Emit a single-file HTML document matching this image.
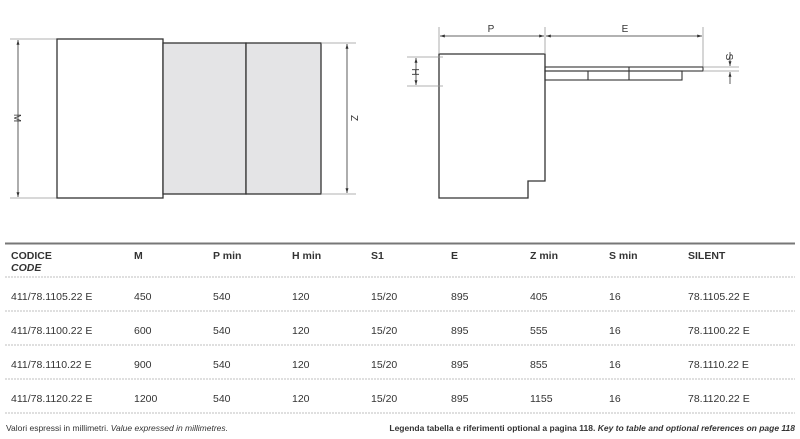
<!DOCTYPE html>
<html><head><meta charset="utf-8"><style>
html,body{margin:0;padding:0;background:#fff;width:800px;height:439px;overflow:hidden}
svg text{font-family:"Liberation Sans",Arial,sans-serif;fill:#333}
</style></head><body>
<svg width="800" height="439" viewBox="0 0 800 439" xmlns="http://www.w3.org/2000/svg">
<defs>
<marker id="a" viewBox="0 0 8 8" refX="8" refY="4" markerWidth="6" markerHeight="6" orient="auto-start-reverse"><path d="M0,1.5 L8,4 L0,6.5 Z" fill="#333"/></marker>
</defs>
<g stroke="#333" fill="none">
<!-- left drawing -->
<line x1="10" y1="39" x2="57" y2="39" stroke="#999" stroke-width="0.8"/>
<line x1="10" y1="198" x2="57" y2="198" stroke="#999" stroke-width="0.8"/>
<line x1="18" y1="40" x2="18" y2="197" stroke-width="0.8" marker-start="url(#a)" marker-end="url(#a)"/>
<rect x="57" y="39" width="106" height="159" fill="#fff" stroke-width="1.3"/>
<rect x="163" y="43" width="83" height="151" fill="#e4e4e6" stroke-width="1.3"/>
<rect x="246" y="43" width="75" height="151" fill="#e4e4e6" stroke-width="1.3"/>
<line x1="321" y1="43" x2="356" y2="43" stroke="#999" stroke-width="0.8"/>
<line x1="321" y1="194" x2="356" y2="194" stroke="#999" stroke-width="0.8"/>
<line x1="347" y1="44" x2="347" y2="193" stroke-width="0.8" marker-start="url(#a)" marker-end="url(#a)"/>
<!-- right drawing -->
<path d="M439,54 L545,54 L545,181 L528,181 L528,198 L439,198 Z" stroke-width="1.3" fill="#fff"/>
<line x1="439" y1="27" x2="439" y2="54" stroke="#999" stroke-width="0.8"/>
<line x1="545" y1="27" x2="545" y2="54" stroke="#999" stroke-width="0.8"/>
<line x1="703" y1="27" x2="703" y2="67" stroke="#999" stroke-width="0.8"/>
<line x1="440" y1="36" x2="544" y2="36" stroke-width="0.8" marker-start="url(#a)" marker-end="url(#a)"/>
<line x1="546" y1="36" x2="702" y2="36" stroke-width="0.8" marker-start="url(#a)" marker-end="url(#a)"/>
<rect x="545" y="67" width="158" height="4" stroke-width="1.1"/>
<rect x="545" y="71" width="137" height="9" stroke-width="1.1"/>
<line x1="588" y1="71" x2="588" y2="80" stroke-width="1.1"/>
<line x1="629" y1="67" x2="629" y2="80" stroke-width="1.1"/>
<line x1="407" y1="57" x2="443" y2="57" stroke="#999" stroke-width="0.8"/>
<line x1="407" y1="86" x2="443" y2="86" stroke="#999" stroke-width="0.8"/>
<line x1="416" y1="58" x2="416" y2="85" stroke-width="0.8" marker-start="url(#a)" marker-end="url(#a)"/>
<line x1="703" y1="67" x2="739" y2="67" stroke="#999" stroke-width="0.8"/>
<line x1="703" y1="71" x2="739" y2="71" stroke="#999" stroke-width="0.8"/>
<line x1="730" y1="52" x2="730" y2="66" stroke-width="0.8" marker-end="url(#a)"/>
<line x1="730" y1="84" x2="730" y2="72" stroke-width="0.8" marker-end="url(#a)"/>
<!-- table lines -->
<line x1="5" y1="243.5" x2="795" y2="243.5" stroke="#777" stroke-width="2"/>
<g stroke="#aaa" stroke-width="0.8" stroke-dasharray="2,1">
<line x1="5" y1="277" x2="795" y2="277"/>
<line x1="5" y1="311" x2="795" y2="311"/>
<line x1="5" y1="345" x2="795" y2="345"/>
<line x1="5" y1="379" x2="795" y2="379"/>
<line x1="5" y1="413" x2="795" y2="413"/>
</g>
</g>
<g font-size="10">
<text transform="translate(14,118) rotate(90)" text-anchor="middle">M</text>
<text transform="translate(351,118) rotate(90)" text-anchor="middle">Z</text>
<text x="491" y="32" text-anchor="middle">P</text>
<text x="625" y="32" text-anchor="middle">E</text>
<text transform="translate(412,72) rotate(90)" text-anchor="middle">H</text>
<text transform="translate(726,57) rotate(90)" text-anchor="middle">S</text>
</g>
<g font-size="10.5">
<g font-weight="bold">
<text x="11" y="259">CODICE</text>
<text x="11" y="271" font-style="italic">CODE</text>
<text x="134" y="259">M</text>
<text x="213" y="259">P min</text>
<text x="292" y="259">H min</text>
<text x="371" y="259">S1</text>
<text x="451" y="259">E</text>
<text x="530" y="259">Z min</text>
<text x="609" y="259">S min</text>
<text x="688" y="259">SILENT</text>
</g>
<text x="11" y="300">411/78.1105.22 E</text><text x="134" y="300">450</text><text x="213" y="300">540</text><text x="292" y="300">120</text><text x="371" y="300">15/20</text><text x="451" y="300">895</text><text x="530" y="300">405</text><text x="609" y="300">16</text><text x="688" y="300">78.1105.22 E</text>
<text x="11" y="334">411/78.1100.22 E</text><text x="134" y="334">600</text><text x="213" y="334">540</text><text x="292" y="334">120</text><text x="371" y="334">15/20</text><text x="451" y="334">895</text><text x="530" y="334">555</text><text x="609" y="334">16</text><text x="688" y="334">78.1100.22 E</text>
<text x="11" y="368">411/78.1110.22 E</text><text x="134" y="368">900</text><text x="213" y="368">540</text><text x="292" y="368">120</text><text x="371" y="368">15/20</text><text x="451" y="368">895</text><text x="530" y="368">855</text><text x="609" y="368">16</text><text x="688" y="368">78.1110.22 E</text>
<text x="11" y="402">411/78.1120.22 E</text><text x="134" y="402">1200</text><text x="213" y="402">540</text><text x="292" y="402">120</text><text x="371" y="402">15/20</text><text x="451" y="402">895</text><text x="530" y="402">1155</text><text x="609" y="402">16</text><text x="688" y="402">78.1120.22 E</text>
</g>
<text x="6" y="431" font-size="8.5" fill="#555">Valori espressi in millimetri.  <tspan font-style="italic">Value expressed in millimetres.</tspan></text>
<text x="795" y="431" font-size="8.5" font-weight="bold" text-anchor="end">Legenda tabella e riferimenti optional a pagina 118.  <tspan font-style="italic">Key to table and optional references on page 118</tspan></text>
</svg>
</body></html>
